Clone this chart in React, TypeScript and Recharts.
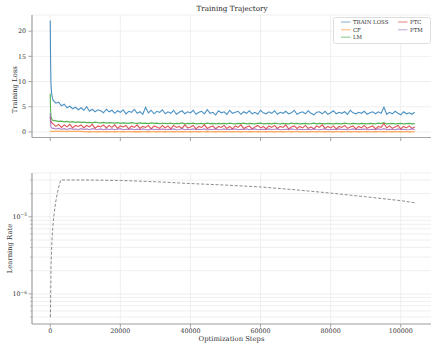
import React from 'react';
import { LineChart, Line, XAxis, YAxis, CartesianGrid, Legend } from 'recharts';

const FONT = '"DejaVu Serif", serif';
const SPINE = '#a3a3a3';
const GRID = '#ebebeb';
const TEXT = '#333';

// optimisation step at which each loss was logged
const steps = [
  0, 100, 200, 400, 600,
  800, 1600, 2400, 3200, 4000, 4800, 5600, 6400, 7200, 8000,
  8800, 9600, 10400, 11200, 12000, 12800, 13600, 14400, 15200, 16000,
  16800, 17600, 18400, 19200, 20000, 20800, 21600, 22400, 23200, 24000,
  24800, 25600, 26400, 27200, 28000, 28800, 29600, 30400, 31200, 32000,
  32800, 33600, 34400, 35200, 36000, 36800, 37600, 38400, 39200, 40000,
  40800, 41600, 42400, 43200, 44000, 44800, 45600, 46400, 47200, 48000,
  48800, 49600, 50400, 51200, 52000, 52800, 53600, 54400, 55200, 56000,
  56800, 57600, 58400, 59200, 60000, 60800, 61600, 62400, 63200, 64000,
  64800, 65600, 66400, 67200, 68000, 68800, 69600, 70400, 71200, 72000,
  72800, 73600, 74400, 75200, 76000, 76800, 77600, 78400, 79200, 80000,
  80800, 81600, 82400, 83200, 84000, 84800, 85600, 86400, 87200, 88000,
  88800, 89600, 90400, 91200, 92000, 92800, 93600, 94400, 95200, 96000,
  96800, 97600, 98400, 99200, 100000, 100800, 101600, 102400, 103200, 104000,
];

const trainLoss = [
  22.1, 14.5, 9.8, 7.6, 6.8,
  6.3, 5.7, 5.9, 5.2, 5.5, 4.8, 5.1, 4.6, 4.9, 4.4,
  4.8, 4.3, 5.0, 4.1, 4.5, 4.0, 4.4, 4.2, 3.8, 4.5,
  4.0, 4.3, 3.7, 4.2, 3.9, 4.4, 3.6, 4.1, 3.9, 4.5,
  3.7, 4.0, 3.5, 4.9, 3.8, 4.3, 3.6, 4.1, 3.9, 4.4,
  3.6, 4.0, 3.7, 4.3, 3.5, 3.9, 4.2, 3.6, 4.0, 3.8,
  4.3, 3.5, 3.9, 4.1, 3.6, 4.4, 3.7, 3.9, 3.4, 4.2,
  3.8, 4.0, 3.5, 4.3, 3.7, 3.9, 4.1, 3.5, 4.0, 3.7,
  4.2, 3.6, 3.9, 3.5, 4.3, 3.8, 3.6, 4.0, 3.7, 4.2,
  3.5, 3.9, 3.7, 4.1, 3.6, 3.8, 4.3, 3.5, 3.8, 4.0,
  3.6, 4.2, 3.7, 3.4, 3.9, 4.0, 3.6, 4.1, 3.5, 3.8,
  4.2, 3.6, 3.9, 3.7, 4.0, 3.5, 4.3, 3.8, 3.6, 3.9,
  3.7, 4.1, 3.5, 3.8, 4.0, 3.6, 4.0, 3.7, 4.9, 3.5,
  3.9, 3.6, 4.1, 3.7, 3.4, 4.0, 3.6, 3.8, 3.5, 3.9,
];

const cfLoss = [
  0.15, 0.15, 0.15, 0.15, 0.15,
  0.15, 0.15, 0.15, 0.15, 0.15, 0.15, 0.15, 0.15, 0.15, 0.15,
  0.14, 0.03, 0.03, 0.02, 0.03, 0.03, 0.02, 0.03, 0.03, 0.02,
  0.03, 0.03, 0.02, 0.03, 0.03, 0.02, 0.03, 0.03, 0.03, 0.02,
  0.03, 0.02, 0.03, 0.03, 0.02, 0.03, 0.03, 0.02, 0.03, 0.03,
  0.02, 0.03, 0.03, 0.02, 0.03, 0.03, 0.02, 0.03, 0.03, 0.02,
  0.03, 0.03, 0.02, 0.03, 0.03, 0.02, 0.03, 0.03, 0.02, 0.03,
  0.03, 0.02, 0.03, 0.03, 0.02, 0.03, 0.03, 0.02, 0.03, 0.03,
  0.02, 0.03, 0.03, 0.02, 0.03, 0.03, 0.02, 0.03, 0.03, 0.02,
  0.03, 0.03, 0.02, 0.03, 0.03, 0.02, 0.03, 0.03, 0.02, 0.03,
  0.03, 0.02, 0.03, 0.03, 0.02, 0.03, 0.03, 0.02, 0.03, 0.03,
  0.02, 0.03, 0.03, 0.02, 0.03, 0.03, 0.02, 0.03, 0.03, 0.02,
  0.03, 0.03, 0.02, 0.03, 0.03, 0.02, 0.03, 0.03, 0.02, 0.03,
  0.03, 0.02, 0.03, 0.03, 0.02, 0.03, 0.03, 0.02, 0.03, 0.03,
];

const lmLoss = [
  7.6, 4.5, 3.2, 2.6, 2.4,
  2.3, 2.2, 2.1, 2.15, 2.0, 2.1, 1.95, 2.05, 1.9, 2.0,
  1.9, 1.95, 1.85, 1.9, 1.8, 1.95, 1.85, 1.8, 1.9, 1.75,
  1.85, 1.8, 1.75, 1.85, 1.7, 1.8, 1.75, 1.7, 1.85, 1.75,
  1.7, 1.8, 1.7, 1.75, 1.65, 1.8, 1.7, 1.75, 1.65, 1.7,
  1.7, 1.65, 1.75, 1.6, 1.7, 1.65, 1.8, 1.6, 1.7, 1.65,
  1.75, 1.6, 1.65, 1.7, 1.6, 1.75, 1.65, 1.7, 1.6, 1.7,
  1.65, 1.7, 1.6, 1.75, 1.65, 1.6, 1.7, 1.65, 1.75, 1.6,
  1.7, 1.65, 1.6, 1.7, 1.75, 1.6, 1.65, 1.7, 1.6, 1.75,
  1.65, 1.6, 1.7, 1.65, 1.6, 1.75, 1.65, 1.7, 1.6, 1.65,
  1.7, 1.6, 1.65, 1.75, 1.6, 1.7, 1.65, 1.6, 1.7, 1.65,
  1.6, 1.7, 1.65, 1.6, 1.75, 1.65, 1.6, 1.7, 1.65, 1.6,
  1.7, 1.65, 1.6, 1.7, 1.65, 1.6, 1.75, 1.65, 1.85, 1.6,
  1.65, 1.7, 1.6, 1.65, 1.7, 1.6, 1.65, 1.7, 1.6, 1.65,
];

const ptcLoss = [
  3.0, 2.6, 2.2, 1.9, 1.7,
  1.6, 1.1, 1.5, 0.9, 1.4, 1.0, 1.5, 0.8, 1.3, 1.1,
  1.4, 0.8, 1.3, 1.0, 1.5, 0.7, 1.2, 1.0, 1.4, 0.8,
  1.3, 0.9, 1.4, 0.7, 1.2, 1.0, 1.3, 0.6, 1.2, 0.9,
  1.4, 0.7, 1.1, 0.9, 1.3, 0.6, 1.2, 1.0, 0.7, 1.3,
  0.8, 1.2, 0.6, 1.3, 0.9, 1.1, 0.7, 1.4, 0.8, 1.0,
  1.3, 0.6, 1.1, 0.9, 1.4, 0.7, 1.0, 1.2, 0.6, 1.1,
  0.9, 1.3, 0.7, 1.1, 0.6, 1.2, 0.9, 1.4, 0.7, 1.0,
  1.2, 0.6, 1.0, 1.3, 0.8, 1.1, 0.6, 1.2, 0.9, 1.3,
  0.7, 1.1, 0.9, 1.4, 0.6, 1.0, 1.2, 0.7, 1.1, 0.8,
  1.3, 0.7, 1.0, 0.6, 1.2, 0.9, 1.4, 0.7, 1.1, 0.8,
  1.2, 0.6, 1.1, 0.9, 1.3, 0.7, 1.0, 1.2, 0.6, 1.1,
  0.8, 1.3, 0.7, 1.0, 1.2, 0.6, 1.1, 0.9, 1.7, 0.8,
  1.2, 0.7, 1.0, 1.3, 0.6, 1.1, 0.8, 1.2, 0.7, 1.0,
];

const ptmLoss = [
  3.7, 1.8, 1.0, 0.8, 0.7,
  0.75, 0.6, 0.7, 0.55, 0.65, 0.5, 0.7, 0.55, 0.6, 0.5,
  0.65, 0.5, 0.6, 0.45, 0.65, 0.55, 0.5, 0.6, 0.45, 0.6,
  0.5, 0.6, 0.45, 0.55, 0.65, 0.45, 0.55, 0.5, 0.6, 0.45,
  0.55, 0.45, 0.6, 0.5, 0.4, 0.6, 0.5, 0.55, 0.45, 0.6,
  0.45, 0.55, 0.5, 0.6, 0.45, 0.5, 0.65, 0.45, 0.55, 0.5,
  0.6, 0.45, 0.55, 0.5, 0.6, 0.4, 0.55, 0.5, 0.6, 0.45,
  0.5, 0.6, 0.45, 0.55, 0.5, 0.6, 0.45, 0.55, 0.5, 0.6,
  0.45, 0.55, 0.6, 0.45, 0.5, 0.55, 0.45, 0.6, 0.5, 0.55,
  0.6, 0.45, 0.5, 0.55, 0.45, 0.6, 0.5, 0.45, 0.55, 0.5,
  0.5, 0.55, 0.45, 0.6, 0.5, 0.45, 0.55, 0.6, 0.45, 0.5,
  0.55, 0.45, 0.6, 0.5, 0.55, 0.45, 0.5, 0.6, 0.45, 0.55,
  0.5, 0.6, 0.45, 0.5, 0.55, 0.45, 0.6, 0.5, 0.65, 0.45,
  0.55, 0.5, 0.45, 0.6, 0.5, 0.55, 0.45, 0.5, 0.6, 0.5,
];

// learning-rate schedule: linear warmup, then slow decay
const lrSteps = [50, 250, 500, 750, 1000, 1500, 2000, 2500, 3000, 10000, 20000, 30000, 40000, 50000, 60000, 70000, 80000, 90000, 100000, 104000];
const lrValues = [5e-7, 2.5e-6, 5e-6, 7.5e-6, 1e-5, 1.5e-5, 2e-5, 2.5e-5, 3e-5, 3.0e-5, 2.96e-5, 2.85e-5, 2.7e-5, 2.58e-5, 2.44e-5, 2.24e-5, 2.03e-5, 1.82e-5, 1.62e-5, 1.52e-5];

const stepTicks = [0, 20000, 40000, 60000, 80000, 100000];
const lossTicks = [0, 5, 10, 15, 20];
const lrTicks = [
  5e-7, 6e-7, 7e-7, 8e-7, 9e-7,
  1e-6, 2e-6, 3e-6, 4e-6, 5e-6, 6e-6, 7e-6, 8e-6, 9e-6,
  1e-5, 2e-5, 3e-5,
];

const series = [
  { key: 'train', name: 'TRAIN LOSS', color: '#1f77b4' },
  { key: 'cf', name: 'CF', color: '#ff7f0e' },
  { key: 'lm', name: 'LM', color: '#2ca02c' },
  { key: 'ptc', name: 'PTC', color: '#d62728' },
  { key: 'ptm', name: 'PTM', color: '#9467bd' },
];

const lossData = steps.map((step, i) => ({
  step,
  train: trainLoss[i],
  cf: cfLoss[i],
  lm: lmLoss[i],
  ptc: ptcLoss[i],
  ptm: ptmLoss[i],
}));

const lrData = lrSteps.map((step, i) => ({ step, lr: lrValues[i] }));

const tickFont = { fontFamily: FONT, fontSize: 6.3, fill: TEXT };

const LogTick = (props: any) => {
  const { x, y, payload } = props;
  const lg = Math.log10(payload.value);
  const exp = Math.round(lg);
  const major = Math.abs(lg - exp) < 1e-6;
  return (
    <g>
      <line x1={x} x2={x - (major ? 3.5 : 2)} y1={y} y2={y} stroke={SPINE} strokeWidth={major ? 1 : 0.7} />
      {major && (
        <text x={x - 5} y={y} dy="0.35em" textAnchor="end" {...tickFont}>
          10<tspan dy={-2.6} fontSize={4.4}>{'\u2212' + -exp}</tspan>
        </text>
      )}
    </g>
  );
};

// two-column legend, filled column by column like the series list
const LegendBox = () => {
  const slots = [
    [8, 5], [8, 12.7], [8, 20.2],
    [65, 5], [65, 12.7],
  ];
  return (
    <svg width={98} height={27} style={{ display: 'block' }}>
      <rect x={0.5} y={0.5} width={97} height={26} rx={2} fill="rgba(255,255,255,0.85)" stroke="#d6d6d6" strokeWidth={0.8} />
      {series.map((s, i) => {
        const [lx, ly] = slots[i];
        return (
          <g key={s.key}>
            <line x1={lx} x2={lx + 9.5} y1={ly} y2={ly} stroke={s.color} strokeOpacity={0.45} strokeWidth={1.3} />
            <text x={lx + 12} y={ly} dy="0.35em" fontFamily={FONT} fontSize={5.4} fill={TEXT}>{s.name}</text>
          </g>
        );
      })}
    </svg>
  );
};

export default function App() {
  return (
    <div style={{ position: 'absolute', left: 0, top: 0, width: 431, height: 345, overflow: 'hidden', background: '#fff' }}>
      <div style={{ position: 'absolute', left: 32, width: 400, top: 4, textAlign: 'center', fontFamily: FONT, fontSize: 7.2, color: '#222', lineHeight: '10px' }}>
        Training Trajectory
      </div>

      <div style={{ position: 'absolute', left: 0, top: 0 }}>
        <LineChart width={433} height={170} data={lossData} margin={{ top: 15, right: 0, bottom: 0, left: 0 }}>
          <CartesianGrid stroke={GRID} strokeWidth={0.8} />
          <XAxis
            dataKey="step"
            type="number"
            domain={[-5200, 109200]}
            ticks={stepTicks}
            allowDataOverflow
            height={5.5}
            tick={() => <g />}
            tickSize={3.5}
            tickLine={{ stroke: SPINE }}
            axisLine={{ stroke: SPINE, strokeWidth: 1.2 }}
          />
          <YAxis
            type="number"
            domain={[-1.1, 23.2]}
            ticks={lossTicks}
            allowDataOverflow
            width={32}
            tickSize={3.5}
            tickMargin={2.5}
            tick={tickFont}
            tickLine={{ stroke: SPINE }}
            axisLine={{ stroke: SPINE, strokeWidth: 1.2 }}
            label={() => (
              <text x={14.5} y={89.8} transform="rotate(-90 14.5 89.8)" textAnchor="middle" dy="0.35em" fontFamily={FONT} fontSize={6.8} fill={TEXT}>
                Training Loss
              </text>
            )}
          />
          {series.map((s) => (
            <Line
              key={s.key}
              dataKey={s.key}
              name={s.name}
              stroke={s.color}
              strokeOpacity={0.8}
              strokeWidth={1.1}
              dot={false}
              type="linear"
              isAnimationActive={false}
            />
          ))}
          <Legend content={<LegendBox />} wrapperStyle={{ position: 'absolute', left: 333, top: 17, width: 98, height: 27 }} />
        </LineChart>
      </div>

      <div style={{ position: 'absolute', left: 0, top: 158 }}>
        <LineChart width={433} height={187} data={lrData} margin={{ top: 15, right: 0, bottom: 0, left: 0 }}>
          <CartesianGrid stroke={GRID} strokeWidth={0.8} />
          <XAxis
            dataKey="step"
            type="number"
            domain={[-5200, 109200]}
            ticks={stepTicks}
            allowDataOverflow
            height={21}
            tickSize={3.5}
            tickMargin={1.5}
            tick={tickFont}
            tickLine={{ stroke: SPINE }}
            axisLine={{ stroke: SPINE, strokeWidth: 1.2 }}
            label={() => (
              <text x={231.5} y={180.5} textAnchor="middle" dy="0.35em" fontFamily={FONT} fontSize={6.8} fill={TEXT}>
                Optimization Steps
              </text>
            )}
          />
          <YAxis
            type="number"
            scale="log"
            domain={[4.07e-7, 3.7e-5]}
            ticks={lrTicks}
            allowDataOverflow
            width={32}
            tickSize={0}
            tickMargin={0}
            tickLine={false}
            tick={<LogTick />}
            interval={0}
            axisLine={{ stroke: SPINE, strokeWidth: 1.2 }}
            label={() => (
              <text x={10} y={90.5} transform="rotate(-90 10 90.5)" textAnchor="middle" dy="0.35em" fontFamily={FONT} fontSize={6.8} fill={TEXT}>
                Learning Rate
              </text>
            )}
          />
          <Line
            dataKey="lr"
            name="LR"
            stroke="#7f7f7f"
            strokeWidth={0.9}
            strokeDasharray="3 1.8"
            dot={false}
            type="linear"
            isAnimationActive={false}
          />
        </LineChart>
      </div>
    </div>
  );
}
